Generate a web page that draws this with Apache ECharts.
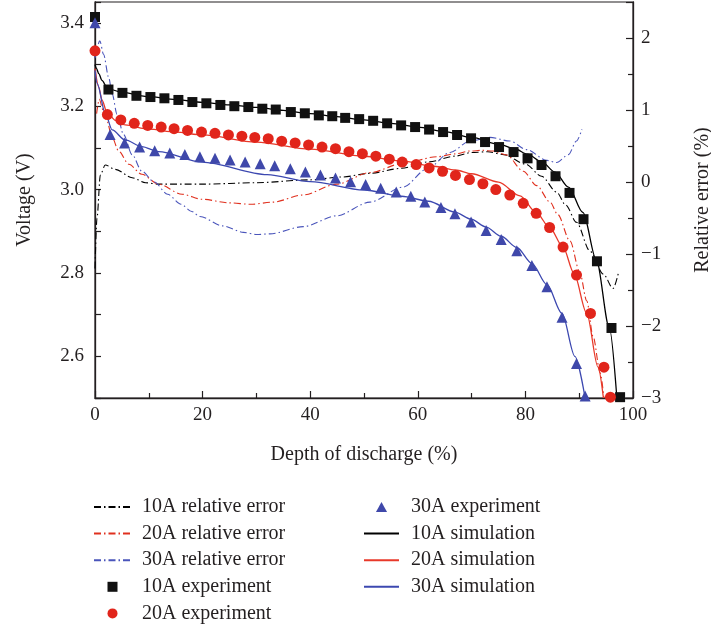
<!DOCTYPE html>
<html><head><meta charset="utf-8">
<script src="https://cdn.jsdelivr.net/npm/echarts@6/dist/echarts.min.js"></script>
<style>html,body{margin:0;padding:0;background:#fff}#c{width:711px;height:631px}</style>
</head><body><div id="c"></div>
<script>
// ---- data: [depth of discharge (%), value] ----
const exp10 = [[0,3.414],[2.5,3.240],[5.1,3.232],[7.7,3.225],[10.3,3.222],[12.9,3.219],[15.5,3.215],[18.1,3.210],[20.7,3.207],[23.3,3.203],[25.9,3.200],[28.5,3.198],[31.1,3.194],[33.6,3.192],[36.4,3.186],[39.0,3.183],[41.6,3.178],[44.1,3.176],[46.5,3.172],[49.1,3.169],[51.7,3.165],[54.3,3.159],[56.9,3.154],[59.5,3.150],[62.1,3.144],[64.7,3.138],[67.3,3.131],[69.9,3.123],[72.5,3.114],[75.1,3.102],[77.8,3.090],[80.4,3.075],[83.0,3.059],[85.6,3.032],[88.2,2.992],[90.8,2.929],[93.3,2.828],[96.0,2.668],[97.6,2.502]];
const exp20 = [[0,3.333],[2.3,3.180],[4.8,3.167],[7.3,3.159],[9.8,3.154],[12.3,3.150],[14.7,3.146],[17.2,3.142],[19.8,3.138],[22.3,3.135],[24.8,3.131],[27.3,3.128],[29.7,3.125],[32.2,3.122],[34.7,3.116],[37.2,3.112],[39.7,3.107],[42.2,3.102],[44.7,3.098],[47.2,3.091],[49.7,3.086],[52.2,3.080],[54.7,3.073],[57.1,3.066],[59.7,3.060],[62.1,3.052],[64.6,3.044],[67.0,3.034],[69.6,3.024],[72.1,3.014],[74.5,3.000],[77.1,2.987],[79.6,2.967],[82.0,2.943],[84.5,2.909],[87.0,2.862],[89.5,2.795],[92.1,2.703],[94.6,2.574],[95.8,2.502]];
const exp30 = [[0,3.400],[2.8,3.132],[5.5,3.112],[8.3,3.102],[11.1,3.093],[13.9,3.088],[16.7,3.084],[19.5,3.079],[22.3,3.075],[25.1,3.071],[27.9,3.066],[30.7,3.062],[33.4,3.057],[36.3,3.050],[39.1,3.042],[41.9,3.035],[44.7,3.028],[47.5,3.019],[50.3,3.012],[53.1,3.003],[56.0,2.994],[58.7,2.984],[61.3,2.970],[64.3,2.957],[66.9,2.942],[69.9,2.922],[72.7,2.902],[75.5,2.880],[78.4,2.853],[81.2,2.818],[84.0,2.767],[86.8,2.694],[89.5,2.583],[91.1,2.505]];
const sim10 = [[0,3.300],[0.3,3.290],[0.7,3.278],[1.3,3.262],[2.2,3.246],[3,3.240],[5,3.233],[10,3.223],[15,3.216],[20,3.209],[25,3.203],[30,3.197],[35,3.190],[40,3.182],[45,3.175],[50,3.167],[55,3.159],[60,3.150],[65,3.139],[70,3.125],[75,3.109],[78,3.098],[80.4,3.085],[83,3.067],[85.5,3.042],[88,3.006],[90.7,2.945],[93.2,2.830],[95.6,2.668],[97,2.500]];
const sim20 = [[0,3.290],[0.7,3.246],[1.3,3.215],[2.2,3.186],[3.8,3.166],[5.6,3.155],[10,3.145],[15,3.138],[20,3.131],[30,3.114],[40,3.097],[50,3.080],[57,3.069],[63,3.056],[67,3.047],[70,3.038],[75,3.018],[79,2.985],[82,2.945],[84.5,2.909],[87,2.862],[89,2.800],[91.4,2.703],[93.5,2.574],[94.5,2.500]];
const sim30 = [[0,3.286],[0.4,3.255],[1.9,3.183],[3.2,3.143],[5.6,3.119],[8.7,3.103],[11.8,3.091],[19.9,3.066],[32,3.036],[40,3.019],[50,2.999],[57,2.984],[62,2.972],[66.9,2.946],[69.9,2.929],[72.7,2.910],[75.5,2.888],[78.4,2.861],[81.2,2.823],[84,2.772],[86.8,2.703],[89.2,2.600],[91.1,2.500]];
const err10 = [[0,-1.20],[0.37,-0.50],[1.0,0.10],[1.9,0.236],[3.8,0.176],[6.9,0.06],[9.4,-0.01],[11.8,-0.03],[20,-0.03],[30,-0.01],[40,0.03],[46,0.07],[51,0.12],[57,0.19],[62,0.28],[67,0.36],[70,0.41],[73,0.42],[76,0.38],[80,0.25],[83,0.08],[85.8,-0.14],[87.5,-0.32],[89.5,-0.56],[92,-0.96],[94.5,-1.28],[96.3,-1.48],[97.3,-1.26]];
const err20 = [[0.3,0.95],[0.8,1.15],[1.5,1.0],[2.2,0.85],[3.2,0.615],[4.4,0.43],[6.3,0.246],[8.7,0.107],[11.8,-0.03],[16.2,-0.17],[19.9,-0.24],[25,-0.29],[29,-0.31],[33,-0.28],[38.7,-0.18],[44.9,-0.03],[51.1,0.13],[57.3,0.26],[63.5,0.35],[66.9,0.39],[69.7,0.43],[72,0.44],[74,0.43],[76.5,0.375],[79.6,0.15],[82.1,-0.05],[84.6,-0.28],[86,-0.45],[88.3,-0.82],[90.1,-1.25],[91.4,-1.65],[92.6,-2.15],[93.9,-2.65],[94.6,-3.0]];
const err30 = [[0,1.72],[0.9,1.96],[1.6,1.77],[2.55,1.45],[3.2,1.22],[4.1,0.94],[5.3,0.66],[6.9,0.38],[8.7,0.15],[11,0.0],[13.5,-0.17],[16,-0.31],[18,-0.41],[19.5,-0.48],[23.8,-0.61],[27.6,-0.70],[30.1,-0.73],[32.5,-0.72],[38.7,-0.62],[44.9,-0.47],[51.1,-0.28],[57.3,-0.07],[61.7,0.18],[66,0.41],[69.7,0.57],[73.4,0.62],[77.1,0.57],[80.2,0.45],[84,0.30],[85.8,0.27],[88,0.38],[89.5,0.57],[90.5,0.73]];

const xRange = [0, 100], vRange = [2.5, 3.45], eRange = [-3, 2.5];
const legendCol1 = ['10A relative error','20A relative error','30A relative error','10A experiment','20A experiment'];
const legendCol2 = ['30A experiment','10A simulation','20A simulation','30A simulation'];

const FONT = 'Liberation Serif';
const TXT = '#231f20';
const DASHDOT = [7, 3, 1.5, 3];
const C = { black: '#111111', red: '#e1251b', blue: '#3f48aa', redL: '#e8392a', blueL: '#3c48b0', redD: '#e0301e', blueD: '#4a55bb' };
const NOFILL = 'rgba(0,0,0,0)';
const ICON = { '10A experiment': 'path://M0,0H1V1H0Z', '20A experiment': 'circle', '30A experiment': 'path://M0.5,0L1,0.9H0Z' };

function errLine(name, data, color) {
  return { name, type: 'line', yAxisIndex: 1, data, symbol: 'none', smooth: 0.3, smoothMonotone: 'x',
    itemStyle: { color: NOFILL }, lineStyle: { color, width: 1.1, type: DASHDOT }, z: 2 };
}
function simLine(name, data, color) {
  return { name, type: 'line', yAxisIndex: 0, data, symbol: 'none', smooth: 0.3, smoothMonotone: 'x',
    itemStyle: { color: NOFILL }, lineStyle: { color, width: 1.3 }, z: 3 };
}
function expPts(name, data, color, symbol, size) {
  return { name, type: 'scatter', yAxisIndex: 0, data, symbol, symbolSize: size, itemStyle: { color, opacity: 1 }, z: 4 };
}
const minus = s => String(s).replace('-', '\u2212');
const legendItems = names => names.map(n => ICON[n] ? { name: n, icon: ICON[n] } : { name: n });
const legendBase = { orient: 'vertical', padding: 0, itemGap: 6.6, itemHeight: 10, selectedMode: false, symbolKeepAspect: true,
  textStyle: { fontFamily: FONT, fontSize: 20, color: TXT, lineHeight: 20 } };

const chart = echarts.init(document.getElementById('c'), null, { renderer: 'canvas' });
chart.setOption({
  animation: false,
  backgroundColor: '#fff',
  textStyle: { fontFamily: FONT },
  grid: { left: 95, right: 78, top: 2, bottom: 233, show: true, borderColor: TXT, borderWidth: 1.2,
    containLabel: false, outerBoundsMode: 'none' },
  xAxis: {
    type: 'value', min: xRange[0], max: xRange[1], interval: 20,
    name: 'Depth of discharge (%)', nameLocation: 'middle', nameGap: 47,
    nameTextStyle: { fontFamily: FONT, fontSize: 20, color: TXT },
    axisLine: { onZero: false, lineStyle: { color: TXT, width: 1.3 } },
    axisTick: { inside: true, length: 7, lineStyle: { color: TXT, width: 1.2 } },
    minorTick: { show: true, splitNumber: 2, length: 5, lineStyle: { color: TXT, width: 1.2 } },
    axisLabel: { fontFamily: FONT, fontSize: 19, color: TXT, margin: 8 },
    splitLine: { show: false }
  },
  yAxis: [{
    type: 'value', min: vRange[0], max: vRange[1], interval: 0.1, position: 'left',
    name: 'Voltage (V)', nameLocation: 'middle', nameGap: 60, nameRotate: 90,
    nameTextStyle: { fontFamily: FONT, fontSize: 20, color: TXT },
    axisLine: { show: true, onZero: false, lineStyle: { color: TXT, width: 1.3 } },
    axisTick: { inside: true, length: 6, lineStyle: { color: TXT, width: 1.2 } },
    axisLabel: { fontFamily: FONT, fontSize: 19, color: TXT, margin: 11,
      formatter: v => (Math.round(v * 10) % 2 === 0 && Math.abs(v * 10 - Math.round(v * 10)) < 1e-6) ? v.toFixed(1) : '' },
    splitLine: { show: false }
  }, {
    type: 'value', min: eRange[0], max: eRange[1], interval: 1, position: 'right',
    name: 'Relative error (%)', nameLocation: 'middle', nameGap: 60, nameRotate: 90,
    nameTextStyle: { fontFamily: FONT, fontSize: 20, color: TXT },
    axisLine: { show: true, onZero: false, lineStyle: { color: TXT, width: 1.3 } },
    axisTick: { inside: true, length: 7, lineStyle: { color: TXT, width: 1.2 } },
    minorTick: { show: true, splitNumber: 2, length: 5, lineStyle: { color: TXT, width: 1.2 } },
    axisLabel: { fontFamily: FONT, fontSize: 19, color: TXT, margin: 8,
      formatter: v => Number.isInteger(v) ? minus(v) : '' },
    splitLine: { show: false }
  }],
  legend: [
    Object.assign({}, legendBase, { left: 93, top: 497, itemWidth: 37, data: legendItems(legendCol1),
      textStyle: Object.assign({}, legendBase.textStyle, { padding: [0, 0, 0, 6] }) }),
    Object.assign({}, legendBase, { left: 363, top: 497, itemWidth: 35, data: legendItems(legendCol2),
      textStyle: Object.assign({}, legendBase.textStyle, { padding: [0, 0, 0, 7] }) })
  ],
  series: [
    errLine('10A relative error', err10, '#000000'),
    errLine('20A relative error', err20, C.redD),
    errLine('30A relative error', err30, C.blueD),
    expPts('10A experiment', exp10, C.black, 'rect', 10),
    expPts('20A experiment', exp20, C.red, 'circle', 11),
    expPts('30A experiment', exp30, C.blue, 'triangle', 11),
    simLine('10A simulation', sim10, '#000000'),
    simLine('20A simulation', sim20, C.redL),
    simLine('30A simulation', sim30, C.blueL)
  ]
});
</script></body></html>
